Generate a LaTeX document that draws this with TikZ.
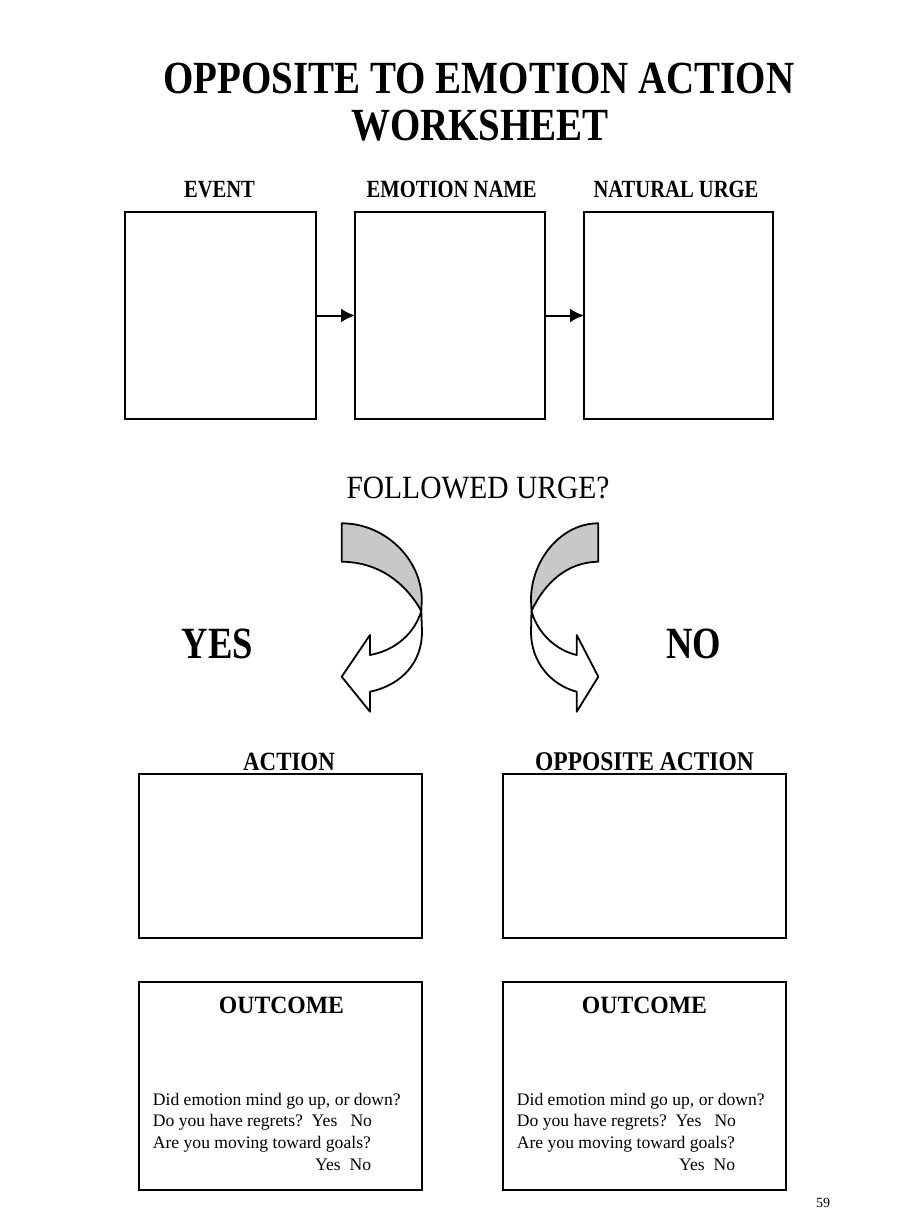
\documentclass[tikz,border=0pt]{standalone}
\usepackage{fontspec}
\setmainfont{Liberation Serif}[BoldFont={Liberation Serif Bold}]
\usetikzlibrary{arrows.meta}
\definecolor{shade}{RGB}{200,200,200}
\newcommand\vst[2]{\scalebox{1}[#1]{#2}}
\tikzset{
  box/.style={draw, line width=2pt},
  txt/.style={inner sep=0pt, anchor=base},
  ltxt/.style={inner sep=0pt, anchor=base west, font=\fontsize{17.6}{20}\selectfont},
  flow/.style={line width=2pt, -{Latex[length=14pt,width=14pt]}},
  curv/.style={line width=1.8pt, line join=round},
}
\begin{document}
\begin{tikzpicture}[x=1pt,y=-1pt]
\useasboundingbox (0,0) rectangle (912,1216);
% title
\node[txt] (t1) at (479,93) {\vst{1.18}{\fontsize{39}{39}\selectfont\bfseries OPPOSITE TO EMOTION ACTION}};
\node[txt] (t2) at (480,140) {\vst{1.18}{\fontsize{39}{39}\selectfont\bfseries WORKSHEET}};
% labels
\node[txt] (l1) at (219.5,197) {\vst{1.2}{\fontsize{20.6}{20}\selectfont\bfseries EVENT}};
\node[txt] (l2) at (451.7,197) {\vst{1.2}{\fontsize{20.6}{20}\selectfont\bfseries EMOTION NAME}};
\node[txt] (l3) at (676,197) {\vst{1.2}{\fontsize{20.6}{20}\selectfont\bfseries NATURAL URGE}};
% top boxes
\node[box, minimum width=191pt, minimum height=207pt, inner sep=0pt, outer sep=0pt] (b1) at (220.5,315.5) {};
\node[box, minimum width=190pt, minimum height=207pt, inner sep=0pt, outer sep=0pt] (b2) at (450,315.5) {};
\node[box, minimum width=189pt, minimum height=207pt, inner sep=0pt, outer sep=0pt] (b3) at (678.5,315.5) {};
\draw[flow] (b1.east) -- (b2.west);
\draw[flow] (b2.east) -- (b3.west);
% followed urge
\node[txt] (fu) at (478,498.5) {\vst{1.1}{\fontsize{29.5}{30}\selectfont FOLLOWED URGE?}};
% left curved arrow
\coordinate (lc) at (421.3,611);
\filldraw[curv, fill=shade] (341.7,523.3) .. controls (385.7,523.3) and (421.8,560) .. (421.8,600) -- (lc)
  .. controls (405,582) and (378,562) .. (341.7,561.7) -- cycle;
\filldraw[curv, fill=white] (lc) .. controls (415,632) and (397,650) .. (370,655) -- (370,635) -- (341.7,676.7)
  -- (370,711.7) -- (370,691.7) .. controls (402,685) and (422,662) .. (422,632) -- cycle;
% right curved arrow
\coordinate (rc) at (531.5,611);
\filldraw[curv, fill=shade] (598.3,523.3) .. controls (561,523.3) and (531,560) .. (531,600) -- (rc)
  .. controls (545,582) and (568,562) .. (598.3,561.7) -- cycle;
\filldraw[curv, fill=white] (rc) .. controls (537,632) and (555,650) .. (576.7,655) -- (576.7,635) -- (598.3,676.7)
  -- (576.7,711.7) -- (576.7,691.7) .. controls (551,685) and (531,662) .. (531,632) -- cycle;
% yes / no
\node[txt] (yes) at (217.5,658) {\vst{1.22}{\fontsize{36.6}{36}\selectfont\bfseries YES}};
\node[txt] (no) at (694,658) {\vst{1.22}{\fontsize{36.6}{36}\selectfont\bfseries NO}};
% action boxes
\node[txt] (al) at (289,770) {\vst{1.15}{\fontsize{22.9}{23}\selectfont\bfseries ACTION}};
\node[txt] (ol) at (644.5,770) {\vst{1.15}{\fontsize{23.5}{23}\selectfont\bfseries OPPOSITE ACTION}};
\draw[box] (139,774) rectangle (422,938);
\draw[box] (503,774) rectangle (786,938);
% outcome boxes
\draw[box] (139,982) rectangle (422,1190);
\draw[box] (503,982) rectangle (786,1190);
\node[txt] (oc1) at (281.5,1013.3) {\vst{1.05}{\fontsize{23.7}{23}\selectfont\bfseries OUTCOME}};
\node[txt] (oc2) at (644.5,1013.3) {\vst{1.05}{\fontsize{23.7}{23}\selectfont\bfseries OUTCOME}};
\node[ltxt] (q1a) at (152.7,1105) {Did emotion mind go up, or down?};
\node[ltxt] (q1b) at (152.7,1126.7) {Do you have regrets?\ \ Yes\ \ \ No};
\node[ltxt] (q1c) at (152.7,1148.3) {Are you moving toward goals?};
\node[ltxt] (q1d) at (315,1170.7) {Yes\ \ No};
\node[ltxt] (q2a) at (516.7,1105) {Did emotion mind go up, or down?};
\node[ltxt] (q2b) at (516.7,1126.7) {Do you have regrets?\ \ Yes\ \ \ No};
\node[ltxt] (q2c) at (516.7,1148.3) {Are you moving toward goals?};
\node[ltxt] (q2d) at (679,1170.7) {Yes\ \ No};
% page number
\node[txt] (pg) at (823,1207) {\fontsize{14}{14}\selectfont 59};
\end{tikzpicture}
\end{document}
